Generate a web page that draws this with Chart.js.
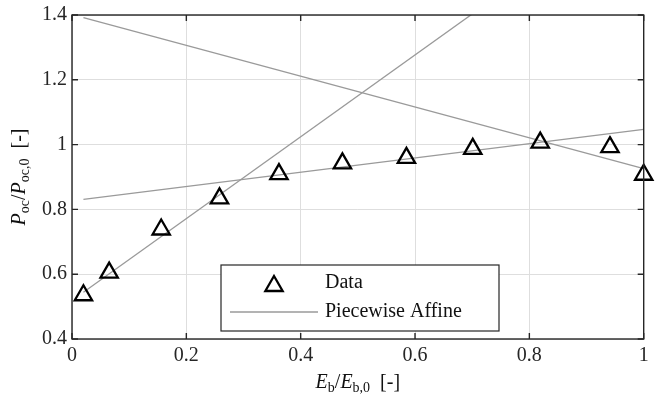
<!DOCTYPE html>
<html lang="en">
<head>
    <meta charset="UTF-8">
    <title>Poc vs Eb</title>
    <script src="https://cdn.jsdelivr.net/npm/chart.js"></script>
    <style>
        html, body {
            margin: 0;
            padding: 0;
            background: #fff;
        }
        #wrap {
            width: 656px;
            height: 407px;
        }
    </style>
</head>
<body>
    <div id="wrap"><canvas id="pocChart" width="656" height="407"></canvas></div>

    <script>
        // measured points
        const ebRatio = [0.02, 0.065, 0.156, 0.258, 0.362, 0.473, 0.585, 0.701, 0.819, 0.941, 1.0];
        const pocRatio = [0.535, 0.605, 0.738, 0.834, 0.909, 0.942, 0.959, 0.987, 1.006, 0.992, 0.907];

        // affine pieces, evaluated at both ends of the range
        const segX = [0.02, 1.0];
        const segSteep = [0.544, 1.782];
        const segFalling = [1.392, 0.926];
        const segFlat = [0.831, 1.047];

        const xTicks = [0, 0.2, 0.4, 0.6, 0.8, 1];
        const yTicks = [0.4, 0.6, 0.8, 1, 1.2, 1.4];

        const axisColor = '#262626';
        const lineGray = '#9a9a9a';
        const serif = '"Liberation Serif", "DejaVu Serif", serif';

        const toPoints = (xs, ys) => xs.map((x, i) => ({ x: x, y: ys[i] }));
        const fmt = (v) => String(+v.toFixed(1));

        const segDataset = (ys) => ({
            label: 'Piecewise Affine',
            data: toPoints(segX, ys),
            showLine: true,
            borderColor: lineGray,
            borderWidth: 1.3,
            pointRadius: 0,
            pointHoverRadius: 0
        });

        // text with italic letters and subscripts
        function drawRich(ctx, parts, size) {
            let w = 0;
            const fontOf = (p) => (p.italic ? 'italic ' : '') + Math.round(p.sub ? size * 0.7 : size) + 'px ' + serif;
            parts.forEach(p => { ctx.font = fontOf(p); w += ctx.measureText(p.t).width; });
            let x = -w / 2;
            parts.forEach(p => {
                ctx.font = fontOf(p);
                ctx.fillText(p.t, x, p.sub ? size * 0.25 : 0);
                x += ctx.measureText(p.t).width;
            });
        }

        function drawTriangle(ctx, x, y, r) {
            ctx.beginPath();
            ctx.moveTo(x, y - r);
            ctx.lineTo(x + r * Math.sqrt(3) / 2, y + r / 2);
            ctx.lineTo(x - r * Math.sqrt(3) / 2, y + r / 2);
            ctx.closePath();
            ctx.stroke();
        }

        const framePlugin = {
            id: 'frame',
            afterDraw(chart) {
                const ctx = chart.ctx;
                const a = chart.chartArea;
                const xs = chart.scales.x;
                const ys = chart.scales.y;
                ctx.save();

                // box and inward ticks
                ctx.strokeStyle = axisColor;
                ctx.lineWidth = 1.4;
                ctx.strokeRect(a.left, a.top, a.right - a.left, a.bottom - a.top);
                ctx.beginPath();
                xTicks.forEach(v => {
                    const px = xs.getPixelForValue(v);
                    ctx.moveTo(px, a.bottom); ctx.lineTo(px, a.bottom - 6);
                    ctx.moveTo(px, a.top); ctx.lineTo(px, a.top + 6);
                });
                yTicks.forEach(v => {
                    const py = ys.getPixelForValue(v);
                    ctx.moveTo(a.left, py); ctx.lineTo(a.left + 6, py);
                    ctx.moveTo(a.right, py); ctx.lineTo(a.right - 6, py);
                });
                ctx.stroke();

                // axis titles
                ctx.fillStyle = '#111';
                ctx.textBaseline = 'middle';
                ctx.textAlign = 'left';
                ctx.save();
                ctx.translate((a.left + a.right) / 2, 383);
                drawRich(ctx, [
                    { t: 'E', italic: true }, { t: 'b', sub: true }, { t: '/' },
                    { t: 'E', italic: true }, { t: 'b,0', sub: true }, { t: '  [-]' }
                ], 20);
                ctx.restore();
                ctx.save();
                ctx.translate(20, (a.top + a.bottom) / 2);
                ctx.rotate(-Math.PI / 2);
                drawRich(ctx, [
                    { t: 'P', italic: true }, { t: 'oc', sub: true }, { t: '/' },
                    { t: 'P', italic: true }, { t: 'oc,0', sub: true }, { t: '  [-]' }
                ], 20);
                ctx.restore();

                // legend
                const lx = 221, ly = 265, lw = 278, lh = 66;
                ctx.fillStyle = '#fff';
                ctx.fillRect(lx, ly, lw, lh);
                ctx.strokeStyle = axisColor;
                ctx.lineWidth = 1.2;
                ctx.strokeRect(lx, ly, lw, lh);

                const pts = chart.data.datasets[0];
                const seg = chart.data.datasets[1];
                ctx.strokeStyle = pts.pointBorderColor;
                ctx.lineWidth = pts.pointBorderWidth;
                drawTriangle(ctx, 274, 286, pts.pointRadius);
                ctx.strokeStyle = seg.borderColor;
                ctx.lineWidth = seg.borderWidth;
                ctx.beginPath();
                ctx.moveTo(230, 312); ctx.lineTo(318, 312);
                ctx.stroke();

                ctx.fillStyle = '#111';
                ctx.font = '20px ' + serif;
                ctx.fillText(pts.label, 325, 283);
                ctx.fillText(seg.label, 325, 312);
                ctx.restore();
            }
        };

        const ctx = document.getElementById('pocChart').getContext('2d');
        new Chart(ctx, {
            type: 'scatter',
            data: {
                datasets: [
                    {
                        label: 'Data',
                        data: toPoints(ebRatio, pocRatio),
                        pointStyle: 'triangle',
                        pointRadius: 10,
                        pointHoverRadius: 10,
                        pointBorderColor: '#000',
                        pointBorderWidth: 2.3,
                        pointBackgroundColor: 'rgba(0,0,0,0)',
                        clip: false
                    },
                    segDataset(segSteep),
                    segDataset(segFalling),
                    segDataset(segFlat)
                ]
            },
            options: {
                responsive: false,
                animation: false,
                events: [],
                layout: { padding: { top: 15, right: 5, left: 0, bottom: 0 } },
                plugins: {
                    legend: { display: false },
                    tooltip: { enabled: false }
                },
                scales: {
                    x: {
                        type: 'linear',
                        min: 0,
                        max: 1,
                        afterFit(scale) {
                            scale.height = 68;
                            scale.paddingLeft = 0;
                            scale.paddingRight = 0;
                        },
                        afterBuildTicks(scale) { scale.ticks = xTicks.map(v => ({ value: v })); },
                        grid: { color: '#dedede', lineWidth: 1, drawTicks: false },
                        border: { display: false },
                        ticks: {
                            padding: 5,
                            color: axisColor,
                            font: { family: serif, size: 20 },
                            callback: fmt
                        }
                    },
                    y: {
                        type: 'linear',
                        min: 0.4,
                        max: 1.4,
                        afterFit(scale) {
                            scale.width = 72;
                            scale.paddingTop = 0;
                            scale.paddingBottom = 0;
                        },
                        afterBuildTicks(scale) { scale.ticks = yTicks.map(v => ({ value: v })); },
                        grid: { color: '#dedede', lineWidth: 1, drawTicks: false },
                        border: { display: false },
                        ticks: {
                            padding: 5,
                            color: axisColor,
                            font: { family: serif, size: 20 },
                            callback: fmt
                        }
                    }
                }
            },
            plugins: [framePlugin]
        });
    </script>
</body>
</html>
